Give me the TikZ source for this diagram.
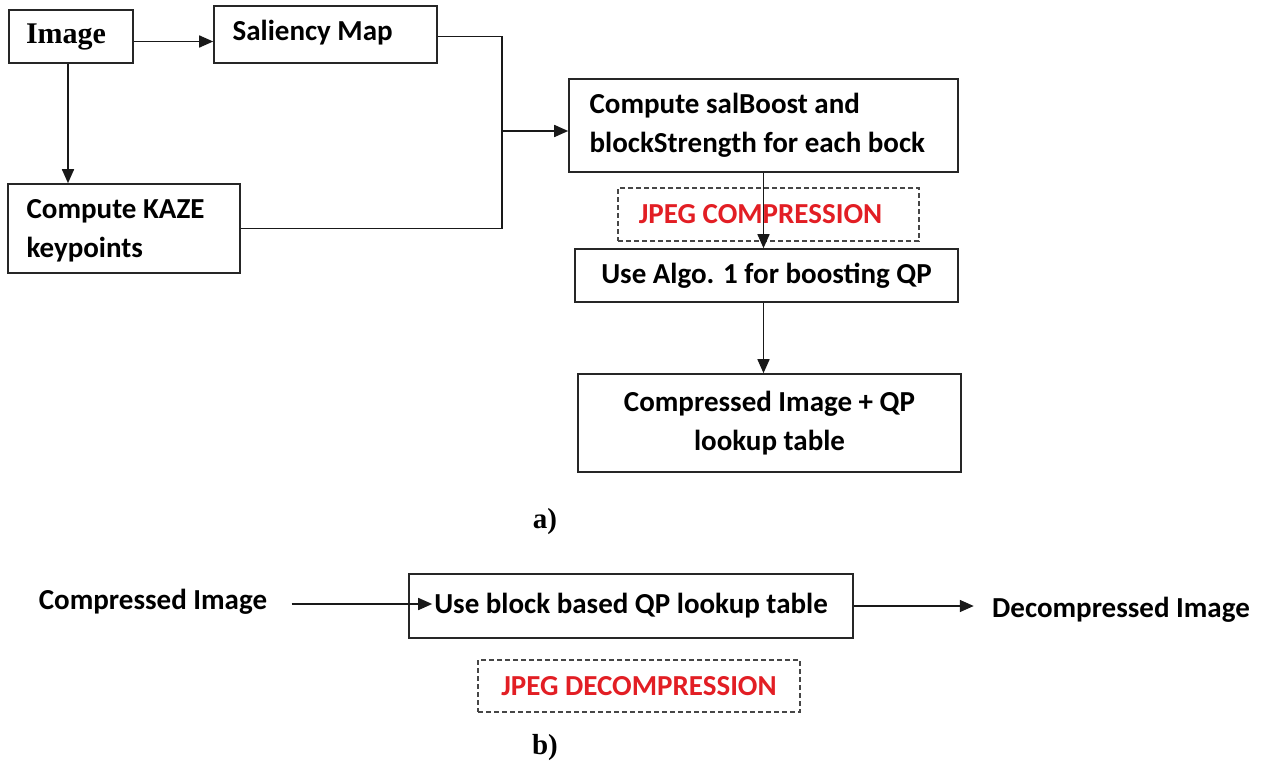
\documentclass[tikz,border=0pt]{standalone}
\usepackage{fontspec}
\setmainfont{Carlito}
\newfontfamily\timesbf{Liberation Serif}
\usetikzlibrary{arrows.meta,calc}
\definecolor{jred}{RGB}{226,30,36}
\definecolor{dgray}{RGB}{70,70,70}
\tikzset{
  box/.style={draw=black!85, line width=0.8pt, inner sep=0pt, font=\fontsize{14.5}{19.5}\selectfont\bfseries},
  dbox/.style={draw=dgray, line width=0.6pt, dash pattern=on 2.5pt off 1.5pt, inner sep=0pt, font=\fontsize{14.5}{19.5}\selectfont\bfseries, text=jred},
  lbl/.style={inner sep=0pt, font=\fontsize{14.5}{19.5}\selectfont\bfseries},
  serif/.style={inner sep=0pt, font=\fontsize{14.5}{19.5}\selectfont\timesbf\bfseries},
  conn/.style={line width=0.8pt, draw=black!90},
  arr/.style={conn, -{Triangle[length=7pt,width=6pt]}}
}
\begin{document}
\begin{tikzpicture}[x=0.5pt,y=-0.5pt]
\useasboundingbox (0,0) rectangle (1267,765);
% part a
\node[box, minimum width=62pt, minimum height=26.5pt, font=\fontsize{15}{19.5}\selectfont\timesbf\bfseries] (img) at (71,36.5) {Image\hspace*{5pt}};
\node[box, minimum width=111.5pt, minimum height=28.5pt] (sal) at (325.5,34.5) {};
\node[lbl, anchor=west] (saltxt) at ([xshift=9.5pt,yshift=1pt]sal.west) {Saliency Map};
\node[box, minimum width=116pt, minimum height=44.5pt] (kaze) at (124,228.5) {};
\node[lbl, anchor=west, align=left] (kazetxt) at ([xshift=9.5pt,yshift=-1pt]kaze.west) {Compute KAZE\\keypoints};
\node[box, minimum width=194.5pt, minimum height=46.5pt] (sb) at (763.5,125.5) {};
\node[lbl, anchor=west, align=left] (sbtxt) at ([xshift=10.5pt]sb.west) {Compute salBoost and\\blockStrength for each bock};
\node[dbox, minimum width=150.5pt, minimum height=26.5pt] (jc) at (768.5,214.5) {JPEG COMPRESSION\hspace*{8pt}};
\node[box, minimum width=191.5pt, minimum height=26.5pt] (algo) at (766.5,275.5) {Use Algo. 1 for boosting QP};
\node[box, minimum width=191.5pt, minimum height=49pt, align=center] (comp) at (769.5,423) {Compressed Image + QP\\lookup table};
\node[serif] (a) at (545,522) {a)};
\coordinate (j) at (502,131);
\draw[arr] ([yshift=-2.5pt]img.east) -- ([yshift=-2.5pt]img.east -| sal.west);
\draw[arr] ([xshift=-1.5pt]img.south) -- ([xshift=-1.5pt]img.south |- kaze.north);
\draw[conn] ([yshift=-1pt]sal.east) -| (j);
\draw[conn] (kaze.east) -| (j);
\draw[arr] (j) -- (j -| sb.west);
\draw[arr] (sb.south) -- (sb.south |- algo.north);
\draw[arr] (sb.south |- algo.south) -- (sb.south |- comp.north);
% part b
\node[lbl] (ci) at (153,602) {Compressed Image};
\node[box, minimum width=222pt, minimum height=32pt] (ub) at (631,606) {\raisebox{1.5pt}{Use block based QP lookup table}};
\node[lbl] (dec) at (1121,610) {Decompressed Image};
\node[dbox, minimum width=161pt, minimum height=26pt] (jd) at (639,686) {JPEG DECOMPRESSION};
\node[serif] (b) at (545,748) {b)};
\draw[arr] ([xshift=12pt,yshift=-1pt]ci.east) -- ([xshift=12pt,yshift=-1pt]ci.east -| ub.west);
\draw[arr] (ub.east) -- ([xshift=-9pt]ub.east -| dec.west);
\end{tikzpicture}
\end{document}
